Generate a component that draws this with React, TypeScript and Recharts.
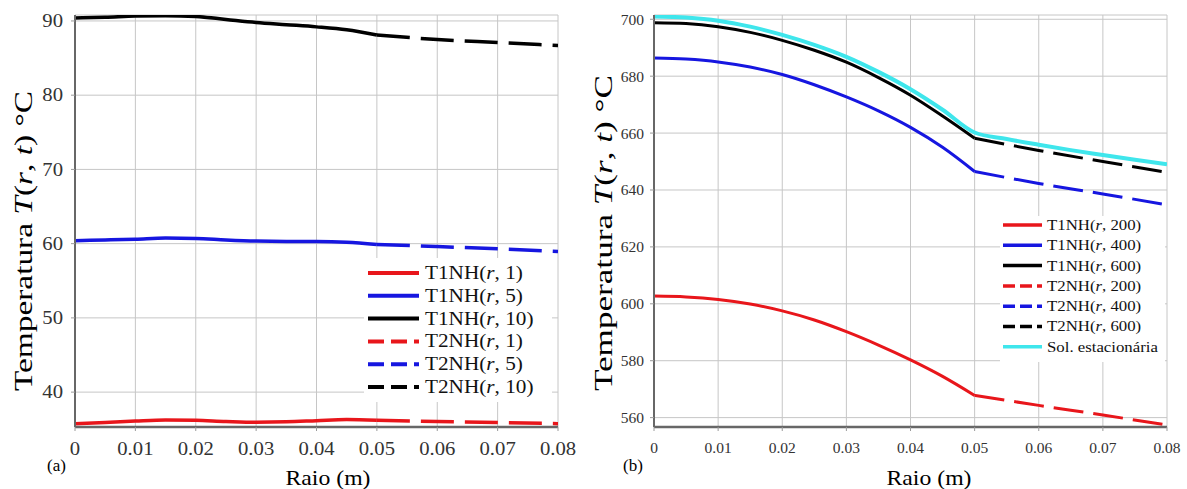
import { LineChart, Line, XAxis, YAxis, CartesianGrid, Legend } from 'recharts'

const FONT = "'Liberation Serif', 'Times New Roman', serif"
const RED = '#e8161b'
const BLUE = '#1616e0'
const BLACK = '#000000'
const CYAN = '#3fe6ec'

// radius (m): solid part is region 1, dashed part is region 2
const rInner = [0, 0.005, 0.01, 0.015, 0.02, 0.025, 0.03, 0.035, 0.04, 0.045, 0.05]
const rOuter = [0.05, 0.06, 0.07, 0.08]
const rFull = [0, 0.005, 0.01, 0.015, 0.02, 0.025, 0.03, 0.035, 0.04, 0.045, 0.05, 0.055, 0.06, 0.065, 0.07, 0.075, 0.08]
const xTicks = [0, 0.01, 0.02, 0.03, 0.04, 0.05, 0.06, 0.07, 0.08]

// (a) t = 1, 5, 10
const aT1_1 = [35.75, 35.9, 36.1, 36.25, 36.2, 36.05, 35.95, 36.0, 36.15, 36.3, 36.2]
const aT1_5 = [60.4, 60.5, 60.6, 60.75, 60.7, 60.5, 60.35, 60.3, 60.3, 60.2, 59.9]
const aT1_10 = [90.4, 90.5, 90.65, 90.7, 90.6, 90.2, 89.8, 89.5, 89.2, 88.8, 88.1]
const aT2_1 = [36.2, 36.05, 35.9, 35.75]
const aT2_5 = [59.9, 59.6, 59.3, 58.95]
const aT2_10 = [88.1, 87.5, 87.1, 86.7]
const aTicks = [40, 50, 60, 70, 80, 90]

// (b) t = 200, 400, 600 and steady state
const bT1_200 = [602.7, 602.4, 601.5, 599.9, 597.5, 594.3, 590.2, 585.5, 580.3, 574.5, 567.8]
const bT1_400 = [686.4, 686.0, 685.0, 683.2, 680.6, 677.0, 672.7, 667.8, 662.0, 655.0, 646.5]
const bT1_600 = [698.8, 698.5, 697.4, 695.4, 692.6, 689.1, 684.9, 679.5, 673.3, 666.0, 658.2]
const bT2_200 = [567.8, 564.3, 560.9, 557.4]
const bT2_400 = [646.5, 642.3, 638.6, 634.8]
const bT2_600 = [658.2, 653.9, 650.0, 646.2]
const bSteady = [701.0, 700.6, 699.5, 697.4, 694.5, 691.0, 686.8, 681.5, 675.4, 668.2, 660.2, 657.9, 655.9, 654.0, 652.3, 650.6, 649.0]
const bTicks = [560, 580, 600, 620, 640, 660, 680, 700]

const pts = (rs: number[], ts: number[]) => rs.map((r, i) => ({ r, T: ts[i] }))

const seriesA = [
  { id: 'T1NH', t: '1', color: RED, dashed: false, r: rInner, T: aT1_1 },
  { id: 'T1NH', t: '5', color: BLUE, dashed: false, r: rInner, T: aT1_5 },
  { id: 'T1NH', t: '10', color: BLACK, dashed: false, r: rInner, T: aT1_10 },
  { id: 'T2NH', t: '1', color: RED, dashed: true, r: rOuter, T: aT2_1 },
  { id: 'T2NH', t: '5', color: BLUE, dashed: true, r: rOuter, T: aT2_5 },
  { id: 'T2NH', t: '10', color: BLACK, dashed: true, r: rOuter, T: aT2_10 },
]

const seriesB = [
  { id: 'T1NH', t: '200', color: RED, dashed: false, r: rInner, T: bT1_200 },
  { id: 'T1NH', t: '400', color: BLUE, dashed: false, r: rInner, T: bT1_400 },
  { id: 'T1NH', t: '600', color: BLACK, dashed: false, r: rInner, T: bT1_600 },
  { id: 'T2NH', t: '200', color: RED, dashed: true, r: rOuter, T: bT2_200 },
  { id: 'T2NH', t: '400', color: BLUE, dashed: true, r: rOuter, T: bT2_400 },
  { id: 'T2NH', t: '600', color: BLACK, dashed: true, r: rOuter, T: bT2_600 },
  { id: 'Sol. estacionária', t: '', color: CYAN, dashed: false, r: rFull, T: bSteady, wide: true },
]

const serif = { fontFamily: FONT }

function AxisTick({ x, y, payload, anchor, size, stretch, dy }: any) {
  return (
    <g transform={`translate(${x},${y})`}>
      <text transform={`scale(${stretch},1)`} textAnchor={anchor} dy={dy}
        fontSize={size} style={serif} fill="#333">
        {String(payload.value)}
      </text>
    </g>
  )
}

function YTitle({ viewBox, cx, shift, len }: any) {
  const x = viewBox.x + cx
  const y = viewBox.y + viewBox.height / 2 + shift
  return (
    <text transform={`translate(${x},${y}) rotate(-90)`} textAnchor="middle"
      dominantBaseline="central" fontSize={25} style={serif} fill="#000"
      textLength={len} lengthAdjust="spacingAndGlyphs">
      Temperatura <tspan fontStyle="italic">T</tspan>(<tspan fontStyle="italic">r</tspan>, <tspan fontStyle="italic">t</tspan>) °C
    </text>
  )
}

function XTitle({ viewBox, shift, tag, tagX }: any) {
  const cx = viewBox.x + viewBox.width / 2 + shift
  return (
    <g fill="#000">
      <text x={cx} y={viewBox.y + 58} textAnchor="middle" fontSize={22} style={serif}
        textLength={85} lengthAdjust="spacingAndGlyphs">Raio (m)</text>
      <text x={viewBox.x + tagX} y={viewBox.y + 44} fontSize={17} style={serif}>{tag}</text>
    </g>
  )
}

function LegendBox({ series, cfg }: any) {
  return (
    <svg width={cfg.w} height={cfg.h} style={{ display: 'block' }}>
      {series.map((s: any, i: number) => {
        const y = cfg.first + i * cfg.step
        return (
          <g key={i}>
            <line x1={cfg.x1} x2={cfg.x2} y1={y} y2={y} stroke={s.color}
              strokeWidth={cfg.sw} strokeDasharray={s.dashed ? cfg.dash : undefined} />
            <g transform={`translate(${cfg.tx},${y}) scale(${cfg.stretch},1)`}>
              <text dy="0.33em" fontSize={cfg.font} style={serif} fill="#111">
                {s.t ? (
                  <>{s.id}(<tspan fontStyle="italic">r</tspan>, {s.t})</>
                ) : s.id}
              </text>
            </g>
          </g>
        )
      })}
    </svg>
  )
}

function Panel({ p }: any) {
  return (
    <LineChart width={p.width} height={489} margin={{ top: 15, right: p.right, bottom: 0, left: 0 }}>
      <CartesianGrid stroke="#c6c6c6" strokeWidth={1} />
      <XAxis type="number" dataKey="r" domain={[0, 0.08]} ticks={xTicks} allowDataOverflow
        height={62} axisLine={{ stroke: '#676767', strokeWidth: 2.5 }}
        tickLine={{ stroke: '#9a9a9a' }} tickSize={4} tickMargin={11}
        tick={(t: any) => <AxisTick {...t} anchor="middle" dy="0.71em" size={p.tickFont} stretch={p.tickStretch} />}
        label={{ content: (l: any) => <XTitle viewBox={l.viewBox} shift={p.xShift} tag={p.tag} tagX={p.tagX} /> }} />
      <YAxis type="number" domain={p.yDomain} ticks={p.yTicks} allowDataOverflow
        width={p.yWidth} axisLine={{ stroke: '#676767', strokeWidth: 2 }}
        tickLine={{ stroke: '#9a9a9a' }} tickSize={4} tickMargin={p.yMargin}
        tick={(t: any) => <AxisTick {...t} anchor="end" dy="0.35em" size={p.tickFont} stretch={p.tickStretch} />}
        label={{ content: (l: any) => <YTitle viewBox={l.viewBox} cx={23} shift={p.yShift} len={p.yLen} /> }} />
      {p.series.map((s: any, i: number) => (
        <Line key={i} data={pts(s.r, s.T)} dataKey="T" type="monotone" stroke={s.color}
          strokeWidth={s.wide ? p.lineWidth + 1 : p.lineWidth}
          strokeDasharray={s.dashed ? p.dash : undefined}
          dot={false} activeDot={false} isAnimationActive={false} />
      ))}
      <Legend layout="vertical" align="center" verticalAlign="middle"
        content={() => <LegendBox series={p.series} cfg={p.legend} />}
        wrapperStyle={{ left: p.legend.left, top: p.legend.top, width: p.legend.w, height: p.legend.h, background: '#fff' }} />
    </LineChart>
  )
}

const panelA = {
  width: 580, right: 22, yWidth: 75, yMargin: 8,
  yDomain: [35.3, 90.8], yTicks: aTicks, series: seriesA,
  tickFont: 18, tickStretch: 1.15, lineWidth: 3.5, dash: '33 11',
  xShift: 11.5, yShift: 20, yLen: 300, tag: '(a)', tagX: -28,
  legend: { left: 364, top: 258, w: 188, h: 144, first: 15, step: 22.8, x1: 4, x2: 55, tx: 61, sw: 4, dash: '16 7', font: 18, stretch: 1.18 },
}

const panelB = {
  width: 607, right: 20, yWidth: 74, yMargin: 6,
  yDomain: [556.7, 701.5], yTicks: bTicks, series: seriesB,
  tickFont: 15.5, tickStretch: 1.0, lineWidth: 3, dash: '30 10',
  xShift: 18.5, yShift: 12, yLen: 316, tag: '(b)', tagX: -31,
  legend: { left: 420, top: 216, w: 165, h: 146, first: 9, step: 20.3, x1: 3, x2: 42, tx: 47, sw: 3.5, dash: '12 5', font: 15, stretch: 1.12 },
}

export default function App() {
  return (
    <div style={{ position: 'absolute', left: 0, top: 0, width: 1187, height: 489, background: '#fff', fontFamily: FONT }}>
      <div style={{ position: 'absolute', left: 0, top: 0 }}>
        <Panel p={panelA} />
      </div>
      <div style={{ position: 'absolute', left: 580, top: 0 }}>
        <Panel p={panelB} />
      </div>
    </div>
  )
}
